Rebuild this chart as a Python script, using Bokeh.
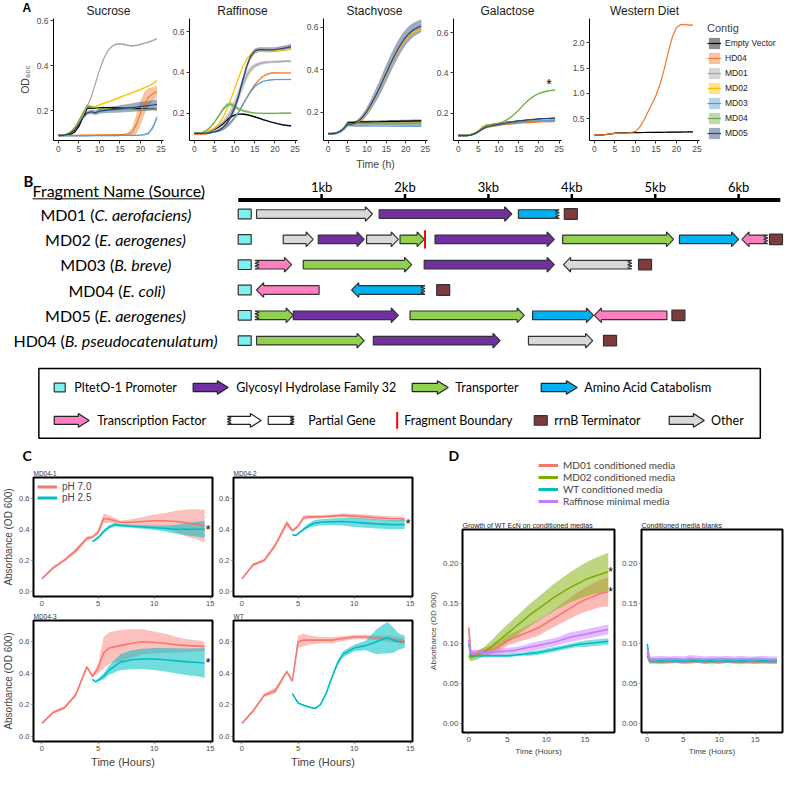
import numpy as np
from bokeh.plotting import figure
from bokeh.models import Range1d, FixedTicker, Legend, LegendItem, NumeralTickFormatter
from bokeh.layouts import row, column
from bokeh.embed import file_html
from bokeh.resources import INLINE
from bokeh.core.properties import value

FA = "Liberation Sans"
FB = "Lato"
NAN2 = [np.nan, np.nan]

# ======================= Panel A data =======================
TIME_A = list(range(25))
CONTIGS = ["Empty Vector", "HD04", "MD01", "MD02", "MD03", "MD04", "MD05"]
CONTIG_COLORS = ["#000000", "#ED7D31", "#A5A5A5", "#FFC000", "#5B9BD5", "#70AD47", "#264478"]
X_TICKS_A = [0, 5, 10, 15, 20, 25]
A_TITLES = ["Sucrose", "Raffinose", "Stachyose", "Galactose", "Western Diet"]

sucrose = {
    "Empty Vector": [0.090,0.090,0.092,0.095,0.105,0.130,0.170,0.210,0.212,0.210,0.212,0.213,0.213,0.212,0.212,0.211,0.210,0.210,0.210,0.209,0.208,0.207,0.206,0.206,0.205],
    "HD04": [0.090,0.090,0.090,0.090,0.090,0.090,0.091,0.091,0.091,0.091,0.092,0.092,0.092,0.092,0.093,0.093,0.094,0.096,0.105,0.140,0.190,0.235,0.260,0.275,0.285],
    "MD01": [0.090,0.090,0.093,0.100,0.115,0.145,0.180,0.220,0.260,0.320,0.380,0.430,0.465,0.485,0.495,0.497,0.495,0.490,0.488,0.490,0.495,0.500,0.505,0.512,0.520],
    "MD02": [0.090,0.090,0.095,0.105,0.125,0.155,0.190,0.222,0.215,0.218,0.225,0.232,0.238,0.245,0.252,0.259,0.266,0.273,0.280,0.287,0.294,0.302,0.310,0.320,0.333],
    "MD03": [0.088,0.088,0.088,0.088,0.088,0.088,0.088,0.088,0.089,0.089,0.089,0.089,0.089,0.089,0.089,0.090,0.090,0.090,0.090,0.090,0.091,0.093,0.100,0.125,0.170],
    "MD04": [0.090,0.090,0.095,0.105,0.125,0.155,0.190,0.222,0.218,0.212,0.208,0.208,0.208,0.206,0.205,0.207,0.210,0.210,0.208,0.206,0.205,0.205,0.205,0.205,0.205],
    "MD05": [0.090,0.090,0.093,0.100,0.115,0.140,0.170,0.190,0.195,0.190,0.198,0.200,0.202,0.204,0.206,0.208,0.210,0.212,0.214,0.216,0.218,0.220,0.222,0.225,0.228],
}
sucrose_sd = {
    "HD04": [0.003,0.003,0.003,0.003,0.003,0.003,0.003,0.003,0.003,0.003,0.003,0.003,0.003,0.003,0.003,0.003,0.003,0.008,0.020,0.045,0.055,0.050,0.040,0.030,0.025],
    "MD05": [0.004,0.004,0.004,0.004,0.004,0.004,0.006,0.008,0.010,0.010,0.012,0.012,0.013,0.014,0.015,0.016,0.017,0.018,0.019,0.020,0.020,0.021,0.021,0.022,0.022],
    "MD03": [0.003,0.003,0.003,0.003,0.003,0.003,0.003,0.003,0.003,0.003,0.003,0.003,0.003,0.003,0.003,0.003,0.003,0.003,0.003,0.003,0.003,0.004,0.006,0.010,0.012],
}

raffinose = {
    "Empty Vector": [0.100,0.100,0.102,0.106,0.112,0.120,0.130,0.145,0.165,0.180,0.190,0.194,0.195,0.192,0.187,0.181,0.175,0.168,0.162,0.156,0.151,0.146,0.142,0.139,0.137],
    "HD04": [0.095,0.095,0.096,0.098,0.102,0.108,0.115,0.125,0.140,0.158,0.178,0.205,0.240,0.275,0.310,0.340,0.362,0.380,0.390,0.396,0.398,0.398,0.397,0.397,0.397],
    "MD01": [0.100,0.100,0.102,0.106,0.113,0.123,0.136,0.152,0.172,0.200,0.240,0.290,0.340,0.385,0.415,0.432,0.442,0.447,0.450,0.451,0.452,0.453,0.454,0.455,0.455],
    "MD02": [0.100,0.100,0.103,0.108,0.116,0.128,0.145,0.175,0.215,0.265,0.320,0.375,0.425,0.465,0.490,0.500,0.504,0.505,0.505,0.505,0.506,0.508,0.510,0.513,0.516],
    "MD03": [0.100,0.100,0.100,0.101,0.103,0.106,0.110,0.118,0.130,0.150,0.175,0.205,0.240,0.275,0.305,0.330,0.345,0.355,0.360,0.363,0.365,0.365,0.365,0.365,0.365],
    "MD04": [0.100,0.100,0.105,0.115,0.130,0.155,0.185,0.215,0.238,0.245,0.232,0.220,0.212,0.207,0.203,0.200,0.199,0.198,0.198,0.198,0.198,0.199,0.200,0.200,0.200],
    "MD05": [0.100,0.100,0.100,0.101,0.104,0.108,0.115,0.127,0.148,0.180,0.225,0.285,0.360,0.430,0.480,0.505,0.512,0.512,0.511,0.511,0.512,0.515,0.518,0.522,0.527],
}
raffinose_sd = {
    "MD01": [0.004,0.004,0.004,0.004,0.005,0.006,0.008,0.012,0.018,0.025,0.030,0.032,0.030,0.025,0.018,0.012,0.010,0.008,0.007,0.006,0.006,0.006,0.006,0.006,0.006],
    "MD04": [0.003,0.003,0.003,0.004,0.005,0.006,0.008,0.010,0.012,0.012,0.010,0.008,0.006,0.005,0.004,0.004,0.004,0.004,0.004,0.004,0.004,0.004,0.004,0.004,0.004],
    "MD05": [0.003,0.003,0.003,0.003,0.004,0.005,0.006,0.008,0.010,0.012,0.014,0.016,0.016,0.015,0.014,0.013,0.012,0.012,0.012,0.012,0.012,0.012,0.013,0.013,0.014],
}

stachyose = {
    "Empty Vector": [0.100,0.100,0.103,0.110,0.125,0.150,0.152,0.153,0.155,0.155,0.155,0.156,0.156,0.156,0.157,0.157,0.158,0.158,0.158,0.159,0.159,0.159,0.160,0.160,0.160],
    "HD04": [0.100,0.100,0.103,0.110,0.124,0.146,0.147,0.147,0.147,0.147,0.147,0.147,0.147,0.147,0.147,0.147,0.147,0.148,0.148,0.148,0.148,0.148,0.148,0.148,0.148],
    "MD01": [0.100,0.100,0.103,0.110,0.124,0.145,0.146,0.146,0.146,0.145,0.145,0.145,0.145,0.144,0.144,0.144,0.143,0.143,0.143,0.142,0.142,0.142,0.141,0.141,0.141],
    "MD02": [0.100,0.100,0.103,0.110,0.125,0.145,0.145,0.148,0.158,0.175,0.200,0.230,0.265,0.300,0.340,0.380,0.420,0.455,0.490,0.520,0.545,0.563,0.575,0.582,0.586],
    "MD03": [0.098,0.098,0.100,0.106,0.118,0.138,0.138,0.137,0.137,0.137,0.137,0.136,0.136,0.136,0.136,0.136,0.136,0.135,0.135,0.135,0.135,0.135,0.135,0.135,0.135],
    "MD04": [0.100,0.100,0.103,0.110,0.124,0.146,0.147,0.148,0.148,0.148,0.148,0.148,0.149,0.149,0.149,0.149,0.149,0.149,0.149,0.149,0.150,0.150,0.150,0.150,0.150],
    "MD05": [0.100,0.100,0.103,0.110,0.125,0.145,0.145,0.150,0.162,0.180,0.205,0.235,0.270,0.305,0.345,0.385,0.425,0.462,0.497,0.527,0.553,0.572,0.587,0.597,0.605],
}
stachyose_sd = {
    "Empty Vector": [0.003,0.003,0.003,0.004,0.005,0.008,0.007,0.006,0.006,0.006,0.006,0.006,0.006,0.006,0.006,0.006,0.006,0.006,0.006,0.006,0.006,0.006,0.006,0.006,0.006],
    "MD05": [0.004,0.004,0.004,0.004,0.005,0.006,0.007,0.009,0.012,0.016,0.020,0.025,0.030,0.034,0.037,0.040,0.041,0.041,0.040,0.039,0.037,0.035,0.033,0.031,0.030],
}

galactose = {
    "Empty Vector": [0.090,0.090,0.090,0.093,0.100,0.112,0.130,0.140,0.143,0.146,0.149,0.152,0.155,0.157,0.159,0.161,0.163,0.165,0.167,0.168,0.170,0.171,0.172,0.173,0.174],
    "HD04": [0.090,0.090,0.090,0.092,0.098,0.108,0.122,0.130,0.134,0.137,0.140,0.143,0.145,0.147,0.149,0.151,0.153,0.154,0.155,0.156,0.157,0.158,0.158,0.159,0.160],
    "MD01": [0.090,0.090,0.090,0.093,0.099,0.110,0.128,0.137,0.140,0.143,0.146,0.149,0.152,0.154,0.156,0.158,0.160,0.162,0.163,0.164,0.165,0.166,0.167,0.168,0.169],
    "MD02": [0.091,0.091,0.091,0.094,0.101,0.113,0.133,0.141,0.144,0.147,0.150,0.153,0.155,0.157,0.159,0.161,0.163,0.165,0.166,0.167,0.168,0.169,0.170,0.171,0.171],
    "MD03": [0.089,0.089,0.089,0.092,0.098,0.108,0.124,0.133,0.137,0.140,0.143,0.146,0.149,0.151,0.153,0.155,0.157,0.159,0.160,0.161,0.162,0.163,0.164,0.165,0.166],
    "MD04": [0.090,0.090,0.090,0.093,0.100,0.112,0.130,0.140,0.143,0.146,0.150,0.157,0.167,0.180,0.197,0.217,0.238,0.258,0.275,0.288,0.298,0.305,0.310,0.313,0.315],
    "MD05": [0.089,0.089,0.089,0.092,0.098,0.108,0.122,0.132,0.137,0.141,0.145,0.149,0.153,0.156,0.159,0.162,0.164,0.166,0.168,0.170,0.172,0.173,0.174,0.175,0.176],
}
galactose_sd = {}

western = {
    "Empty Vector": [0.180,0.180,0.182,0.190,0.200,0.215,0.220,0.222,0.224,0.225,0.226,0.227,0.228,0.229,0.230,0.231,0.232,0.233,0.234,0.235,0.236,0.237,0.238,0.239,0.240],
    "HD04": [0.180,0.180,0.182,0.190,0.200,0.210,0.215,0.218,0.222,0.228,0.250,0.330,0.460,0.630,0.790,0.960,1.180,1.480,1.820,2.120,2.300,2.360,2.360,2.350,2.350],
}
western_sd = {"Empty Vector": 0.01, "HD04": 0.015}

# ======================= Panel B data =======================
FRAG_PREFIX = ["MD01 (", "MD02 (", "MD03 (", "MD04 (", "MD05 (", "HD04 ("]
FRAG_SPECIES = ["C. aerofaciens)", "E. aerogenes)", "B. breve)", "E. coli)", "E. aerogenes)", "B. pseudocatenulatum)"]
gene_row = [0, 0, 0,  1, 1, 1, 1, 1, 1, 1, 1,  2, 2, 2, 2,  3, 3,  4, 4, 4, 4, 4,  5, 5, 5]
gene_start = [0.22, 1.69, 3.36,   0.54, 0.96, 1.54, 1.94, 2.36, 3.89, 5.29, 6.04,   0.20, 0.78, 2.23, 3.90,
              0.22, 1.36,   0.20, 0.66, 2.06, 3.53, 4.27,   0.22, 1.62, 3.48]
gene_end = [1.61, 3.28, 3.85,   0.90, 1.51, 1.92, 2.23, 3.79, 5.22, 6.00, 6.35,   0.64, 2.08, 3.79, 4.72,
            0.97, 2.24,   0.66, 1.92, 3.43, 4.26, 5.14,   1.51, 3.14, 4.25]
gene_type = ["other", "gh32", "aa",   "other", "gh32", "other", "tp", "gh32", "tp", "aa", "tf",
             "tf", "tp", "gh32", "other",   "tf", "aa",   "tp", "gh32", "tp", "aa", "tf",   "tp", "gh32", "other"]
gene_strand = [1, 1, 1,   1, 1, 1, 1, 1, 1, 1, -1,   1, 1, 1, -1,   -1, -1,   1, 1, 1, 1, -1,   1, 1, 1]
gene_partial = [None, None, "right",   None, None, None, None, None, None, None, "right",
                "left", None, None, "right",   None, "right",   "left", None, None, None, None,   None, None, None]
promoter_start = [0.0, 0.0, 0.0, 0.0, 0.0, 0.0]
terminator_start = [3.91, 6.37, 4.80, 2.38, 5.20, 4.38]
boundary_row = [1]
boundary_kb = [2.24]
RULER_TICKS = [1, 2, 3, 4, 5, 6]
RULER_LABELS = ["1kb", "2kb", "3kb", "4kb", "5kb", "6kb"]
RULER_END = 6.5

TYPE_COLORS = {"promoter": "#7DF0F0", "gh32": "#7030A0", "tp": "#92D050", "aa": "#00B0F0",
               "tf": "#FF80C0", "other": "#D9D9D9", "term": "#7E3B3B", "partial": "#FFFFFF"}
KEY_LABELS = ["PltetO-1 Promoter", "Glycosyl Hydrolase Family 32", "Transporter", "Amino Acid Catabolism",
              "Transcription Factor", "Partial Gene", "Fragment Boundary", "rrnB Terminator", "Other"]

# ======================= Panel C data =======================
C_RED_T = [0, 1, 2, 3, 4, 4.5, 5, 5.5, 6, 7, 8, 9, 10, 11, 12, 13, 14, 14.5]
md04_1_red = [0.08,0.15,0.20,0.26,0.34,0.35,0.38,0.47,0.465,0.445,0.445,0.45,0.455,0.455,0.45,0.44,0.43,0.42]
md04_1_red_sd = [0.005,0.01,0.01,0.015,0.015,0.01,0.015,0.03,0.025,0.01,0.02,0.03,0.04,0.05,0.07,0.09,0.10,0.105]
md04_1_cyan_t = [4.5,5,5.5,6,6.5,7,8,9,10,11,12,13,14,14.5]
md04_1_cyan = [0.32,0.345,0.385,0.415,0.43,0.425,0.42,0.415,0.41,0.405,0.40,0.40,0.40,0.40]
md04_1_cyan_sd = [0.005,0.008,0.01,0.012,0.012,0.01,0.01,0.012,0.015,0.02,0.03,0.04,0.05,0.055]

md04_2_red = [0.08,0.17,0.20,0.30,0.44,0.39,0.42,0.475,0.48,0.48,0.485,0.49,0.485,0.48,0.475,0.47,0.468,0.465]
md04_2_red_sd = [0.005,0.01,0.01,0.015,0.02,0.01,0.01,0.015,0.012,0.01,0.01,0.012,0.015,0.015,0.015,0.015,0.015,0.015]
md04_2_cyan_t = [4.5,4.8,5.5,6,6.5,7,8,9,10,11,12,13,14,14.5]
md04_2_cyan = [0.365,0.36,0.40,0.425,0.44,0.445,0.448,0.45,0.445,0.44,0.435,0.432,0.43,0.43]
md04_2_cyan_sd = [0.005,0.005,0.01,0.015,0.02,0.02,0.022,0.025,0.03,0.03,0.03,0.03,0.03,0.03]

md04_3_red = [0.08,0.15,0.18,0.26,0.44,0.38,0.43,0.53,0.56,0.575,0.59,0.60,0.595,0.59,0.58,0.575,0.572,0.57]
md04_3_red_sd = [0.005,0.01,0.01,0.01,0.01,0.01,0.03,0.10,0.10,0.10,0.09,0.08,0.07,0.06,0.05,0.04,0.035,0.03]
md04_3_cyan_t = [4.5,4.8,5.5,6,7,8,9,10,11,12,13,14,14.5]
md04_3_cyan = [0.36,0.345,0.38,0.42,0.47,0.485,0.49,0.49,0.485,0.478,0.472,0.468,0.465]
md04_3_cyan_sd = [0.005,0.005,0.02,0.03,0.05,0.06,0.065,0.07,0.075,0.08,0.085,0.09,0.095]

wt_red = [0.08,0.16,0.26,0.29,0.41,0.35,0.60,0.61,0.61,0.61,0.61,0.62,0.63,0.63,0.625,0.62,0.61,0.60]
wt_red_sd = [0.005,0.01,0.01,0.02,0.01,0.01,0.04,0.04,0.03,0.02,0.02,0.015,0.015,0.015,0.015,0.02,0.02,0.02]
wt_cyan_t = [4.5,5,5.5,6,6.5,7,7.5,8,8.5,9,10,11,12,12.5,13,13.5,14,14.5]
wt_cyan = [0.27,0.21,0.195,0.185,0.175,0.20,0.27,0.37,0.46,0.52,0.56,0.575,0.60,0.615,0.625,0.61,0.60,0.60]
wt_cyan_sd = [0.005,0.005,0.005,0.005,0.005,0.005,0.01,0.01,0.015,0.02,0.02,0.03,0.08,0.09,0.10,0.08,0.05,0.04]

# ======================= Panel D data =======================
D_TIME = [0, 0.3, 1, 2, 3, 4, 5, 6, 7, 8, 9, 10, 11, 12, 13, 14, 15, 16, 17, 18]
D_NAMES = ["MD01 conditioned media", "MD02 conditioned media", "WT conditioned media", "Raffinose minimal media"]
D_COLORS = ["#F8766D", "#7CAE00", "#00BFC4", "#C77CFF"]
growth_md01 = [0.12,0.086,0.088,0.090,0.093,0.097,0.104,0.108,0.112,0.116,0.120,0.126,0.132,0.138,0.144,0.150,0.155,0.159,0.163,0.165]
growth_md01_sd = [0.01,0.005,0.004,0.005,0.005,0.006,0.006,0.007,0.008,0.009,0.010,0.010,0.011,0.012,0.013,0.014,0.015,0.016,0.017,0.018]
growth_md02 = [0.085,0.083,0.085,0.090,0.097,0.105,0.113,0.121,0.129,0.137,0.144,0.151,0.158,0.164,0.170,0.175,0.180,0.184,0.187,0.190]
growth_md02_sd = [0.005,0.005,0.005,0.006,0.008,0.010,0.011,0.012,0.013,0.014,0.015,0.016,0.017,0.018,0.019,0.020,0.021,0.022,0.023,0.024]
growth_wt = [0.100,0.085,0.085,0.085,0.085,0.085,0.085,0.086,0.087,0.088,0.089,0.091,0.093,0.095,0.097,0.099,0.100,0.101,0.102,0.103]
growth_wt_sd = [0.002,0.002,0.002,0.002,0.002,0.002,0.002,0.002,0.002,0.003,0.003,0.003,0.003,0.003,0.003,0.003,0.004,0.004,0.004,0.004]
growth_raf = [0.105,0.088,0.088,0.089,0.089,0.090,0.091,0.092,0.094,0.096,0.098,0.100,0.102,0.105,0.108,0.110,0.112,0.114,0.116,0.118]
growth_raf_sd = [0.004,0.004,0.004,0.004,0.004,0.004,0.004,0.004,0.004,0.005,0.005,0.005,0.005,0.005,0.006,0.006,0.006,0.006,0.006,0.006]

blank_md01 = [0.090,0.079,0.079,0.078,0.079,0.079,0.078,0.079,0.079,0.078,0.079,0.078,0.079,0.079,0.078,0.079,0.078,0.079,0.078,0.078]
blank_md02 = [0.085,0.078,0.078,0.078,0.078,0.079,0.078,0.078,0.079,0.078,0.078,0.078,0.079,0.078,0.078,0.078,0.078,0.078,0.078,0.078]
blank_wt = [0.100,0.080,0.079,0.079,0.080,0.079,0.079,0.080,0.079,0.079,0.079,0.080,0.079,0.079,0.079,0.079,0.080,0.079,0.079,0.079]
blank_raf = [0.095,0.080,0.080,0.081,0.080,0.081,0.080,0.081,0.081,0.080,0.081,0.080,0.081,0.080,0.081,0.080,0.080,0.081,0.080,0.080]
blank_sd = [0.003,0.003,0.003,0.003,0.003,0.003,0.003,0.003,0.003,0.003,0.003,0.003,0.003,0.003,0.003,0.003,0.003,0.003,0.003,0.003]
blank_raf_sd = [0.004,0.004,0.004,0.004,0.004,0.004,0.004,0.005,0.004,0.004,0.004,0.004,0.004,0.004,0.004,0.004,0.004,0.004,0.004,0.004]


# ======================= helpers =======================
def fig(**kw):
    return figure(output_backend="svg", toolbar_location=None, **kw)


def strip(w, h):
    """Blank drawing area (no axes) in pixel units, for panel letters, headings and keys."""
    p = fig(width=w, height=h, x_range=Range1d(0, w), y_range=Range1d(h, 0),
            x_axis_type=None, y_axis_type=None, min_border=0)
    p.outline_line_color = None
    p.grid.visible = False
    return p


def axes_classic(p, tick_size="8.5px"):
    p.grid.visible = False
    p.outline_line_color = None
    for ax in p.axis:
        ax.axis_line_color = "black"
        ax.axis_line_width = 1
        ax.major_tick_line_color = "#333333"
        ax.major_tick_out = 3
        ax.major_tick_in = 0
        ax.minor_tick_line_color = None
        ax.major_label_text_font = FA
        ax.major_label_text_font_size = tick_size
        ax.major_label_text_color = "#4D4D4D"
        ax.major_label_standoff = 2
        ax.axis_label_text_font = FA
        ax.axis_label_text_font_size = "10.5px"
        ax.axis_label_text_font_style = "normal"
        ax.axis_label_standoff = 3


def axes_box(p, tick_size, label_size, fmt):
    p.grid.visible = False
    p.outline_line_color = "black"
    p.outline_line_width = 2
    for ax in p.axis:
        ax.axis_line_color = None
        ax.major_tick_line_color = "#555555"
        ax.major_tick_out = 2
        ax.major_tick_in = 0
        ax.minor_tick_line_color = None
        ax.major_label_text_font = FA
        ax.major_label_text_font_size = tick_size
        ax.major_label_text_color = "#4D4D4D"
        ax.major_label_standoff = 2
        ax.axis_label_text_font = FA
        ax.axis_label_text_font_size = label_size
        ax.axis_label_text_font_style = "normal"
        ax.axis_label_standoff = 2
    p.yaxis.formatter = NumeralTickFormatter(format=fmt)


HA = 156
A_TOP = 2
A_BOTTOM = 28


def panel_a(w, lb, rb, yr, yticks, data, sd, xlabel=None, ylabel=None, fmt="0.0"):
    p = fig(width=w, height=HA, x_range=Range1d(-1.2, 25.6), y_range=Range1d(*yr),
            min_border_left=lb, min_border_right=rb, min_border_top=A_TOP, min_border_bottom=A_BOTTOM)
    axes_classic(p)
    p.xaxis.ticker = FixedTicker(ticks=X_TICKS_A)
    p.yaxis.ticker = FixedTicker(ticks=yticks)
    p.yaxis.formatter = NumeralTickFormatter(format=fmt)
    if xlabel:
        p.xaxis.axis_label = xlabel
    if ylabel:
        p.yaxis.axis_label = ylabel
    for name, col in zip(CONTIGS, CONTIG_COLORS):
        if name in data:
            y = np.array(data[name], float)
            s = np.broadcast_to(np.array(sd.get(name, 0.004), float), y.shape)
            p.varea(x=TIME_A, y1=y - s, y2=y + s, fill_color=col, fill_alpha=0.45)
    for name, col in zip(CONTIGS, CONTIG_COLORS):
        if name in data:
            p.line(TIME_A, data[name], line_color=col, line_width=1.2)
    return p


# ======================= Panel A =======================
A_W = [169, 134, 130, 134, 136]
A_LB = [53, 18, 18, 20, 22]
A_RB = [6, 6, 6, 6, 4]
pa1 = panel_a(A_W[0], A_LB[0], A_RB[0], (0.067, 0.61), [0.2, 0.4, 0.6], sucrose, sucrose_sd, ylabel="OD\u2086\u2080\u2080")
pa2 = panel_a(A_W[1], A_LB[1], A_RB[1], (0.065, 0.665), [0.2, 0.4, 0.6], raffinose, raffinose_sd)
pa3 = panel_a(A_W[2], A_LB[2], A_RB[2], (0.068, 0.64), [0.2, 0.4, 0.6], stachyose, stachyose_sd, xlabel="Time (h)")
pa4 = panel_a(A_W[3], A_LB[3], A_RB[3], (0.065, 0.67), [0.2, 0.4, 0.6], galactose, galactose_sd)
pa5 = panel_a(A_W[4], A_LB[4], A_RB[4], (0.07, 2.48), [0.5, 1.0, 1.5, 2.0], western, western_sd)
pa4.text(x=[22.5], y=[0.345], text=["*"], text_font=value(FA), text_font_size="14px",
         text_align="center", text_baseline="middle", text_color="black")

# "Contig" key beside the Western Diet plot
LEG_W = 784 - sum(A_W)
legA = strip(LEG_W, HA)
key_items = []
for name, col in zip(CONTIGS, CONTIG_COLORS):
    kr = legA.rect(x=NAN2, y=NAN2, width=1, height=1, fill_color=col, fill_alpha=0.45, line_color=None)
    kl = legA.line(x=NAN2, y=NAN2, line_color=col, line_width=1.2)
    key_items.append(LegendItem(label=value(name), renderers=[kr, kl]))
legA.add_layout(Legend(items=key_items, title="Contig", location="top_left", margin=4, padding=0,
                       title_text_font=FA, title_text_font_size="11px", title_text_font_style="normal",
                       label_text_font=FA, label_text_font_size="8.5px", label_text_color="#222222",
                       glyph_width=14, glyph_height=14, spacing=1, label_standoff=4, label_height=14,
                       border_line_color=None, background_fill_alpha=0, title_standoff=2))

# heading strip for panel A: letter and plot titles centred on each plot area
sA = strip(784, 16)
centers, left = [], 0
for w, lb, rb in zip(A_W, A_LB, A_RB):
    centers.append(left + lb + (w - lb - rb) / 2)
    left += w
sA.text(x=centers, y=[10] * 5, text=A_TITLES, text_font=value(FA), text_font_size="12px",
        text_align="center", text_baseline="middle", text_color="#1A1A1A")
sA.text(x=[22], y=[7], text=["A"], text_font=value(FA), text_font_size="12px", text_font_style="bold",
        text_align="left", text_baseline="middle", text_color="black")

# ======================= Panel B =======================
LATO_EM = {" ": 0.26, "(": 0.29, ")": 0.29, ".": 0.22, "-": 0.33,
           "A": 0.68, "B": 0.64, "C": 0.66, "D": 0.73, "E": 0.56, "F": 0.54, "H": 0.74, "M": 0.89, "N": 0.74, "S": 0.53,
           "a": 0.49, "b": 0.55, "c": 0.45, "d": 0.55, "e": 0.51, "f": 0.31, "g": 0.49, "h": 0.55, "i": 0.23,
           "k": 0.49, "l": 0.23, "m": 0.82, "n": 0.55, "o": 0.55, "p": 0.55, "r": 0.36, "s": 0.41, "t": 0.34,
           "u": 0.55, "v": 0.48, "y": 0.48}
KB_PX = 83.4


def text_kb(s, size):
    return sum(LATO_EM.get(c, 0.58) for c in s) * size / KB_PX


pB = fig(width=784, height=274, x_range=Range1d(-2.85, 6.55), y_range=Range1d(9.18, -1.64),
         x_axis_type=None, y_axis_type=None, min_border=0)
pB.grid.visible = False
pB.outline_line_color = None


def gene_polygon(x0, x1, yc, strand, partial, bh=0.17, hh=0.29, hl=0.085, td=0.05):
    left = "jag" if partial == "left" else ("head" if strand < 0 else "flat")
    right = "jag" if partial == "right" else ("head" if strand > 0 else "flat")
    xs, ys = [], []
    n = 7
    if right == "flat":
        xs += [x1, x1]; ys += [yc - bh, yc + bh]
    elif right == "head":
        xs += [x1 - hl, x1 - hl, x1, x1 - hl, x1 - hl]; ys += [yc - bh, yc - hh, yc, yc + hh, yc + bh]
    else:
        for k in range(n):
            xs.append(x1 - (td if k % 2 else 0)); ys.append(yc - bh + 2 * bh * k / (n - 1))
    if left == "flat":
        xs += [x0, x0]; ys += [yc + bh, yc - bh]
    elif left == "head":
        xs += [x0 + hl, x0 + hl, x0, x0 + hl, x0 + hl]; ys += [yc + bh, yc + hh, yc, yc - hh, yc - bh]
    else:
        for k in range(n):
            xs.append(x0 + (td if k % 2 else 0)); ys.append(yc + bh - 2 * bh * k / (n - 1))
    return xs, ys


gx, gy, gc = [], [], []
for r, s, e, t, st, pa in zip(gene_row, gene_start, gene_end, gene_type, gene_strand, gene_partial):
    xs, ys = gene_polygon(s, e, r, st, pa)
    gx.append(xs); gy.append(ys); gc.append(TYPE_COLORS[t])
pB.patches(xs=gx, ys=gy, fill_color=gc, line_color="#333333", line_width=1.2)

rows = list(range(len(FRAG_PREFIX)))
PLEN = 0.156
pB.quad(left=promoter_start, right=[v + PLEN for v in promoter_start],
        top=[r - 0.19 for r in rows], bottom=[r + 0.19 for r in rows],
        fill_color=TYPE_COLORS["promoter"], line_color="#333333", line_width=1.2)
pB.quad(left=terminator_start, right=[v + PLEN for v in terminator_start],
        top=[r - 0.21 for r in rows], bottom=[r + 0.21 for r in rows],
        fill_color=TYPE_COLORS["term"], line_color="#333333", line_width=1.2)
pB.segment(x0=boundary_kb, x1=boundary_kb, y0=[r - 0.36 for r in boundary_row], y1=[r + 0.36 for r in boundary_row],
           line_color="#FF0000", line_width=2)

RY = -0.55
pB.segment(x0=[0], x1=[RULER_END], y0=[RY], y1=[RY], line_color="black", line_width=4)
pB.segment(x0=RULER_TICKS, x1=RULER_TICKS, y0=[RY] * 6, y1=[RY - 0.24] * 6, line_color="black", line_width=2.5)
pB.text(x=RULER_TICKS, y=[RY - 0.5] * 6, text=RULER_LABELS, text_font=value(FB), text_font_size="13px",
        text_align="center", text_baseline="middle", text_color="black")

pB.text(x=[-2.575], y=[-1.3], text=["B"], text_font=value(FB), text_font_size="15px", text_font_style="bold",
        text_align="left", text_baseline="middle", text_color="black")
HX = -2.465
pB.text(x=[HX], y=[-0.93], text=["Fragment Name (Source)"], text_font=value(FB), text_font_size="16px",
        text_align="left", text_baseline="middle", text_color="black")
pB.segment(x0=[HX], x1=[HX + text_kb("Fragment Name (Source)", 16)], y0=[-0.6], y1=[-0.6],
           line_color="black", line_width=1)

LCENTER = -1.44
split = []
for pre, sp in zip(FRAG_PREFIX, FRAG_SPECIES):
    wp, ws = text_kb(pre, 16), text_kb(sp, 16)
    split.append(LCENTER - (wp + ws) / 2 + wp)
pB.text(x=split, y=rows, text=FRAG_PREFIX, text_font=value(FB), text_font_size="16px",
        text_align="right", text_baseline="middle", text_color="black")
pB.text(x=split, y=rows, text=FRAG_SPECIES, text_font=value(FB), text_font_size="16px", text_font_style="italic",
        text_align="left", text_baseline="middle", text_color="black")

pB.quad(left=[-2.39], right=[6.26], top=[6.1], bottom=[8.85], fill_color=None, line_color="black", line_width=1.5)
L1, L2 = 6.85, 8.15
kx, ky, kc = [], [], []
for (x0, x1, yc, t, st, pa) in [(-0.54, -0.12, L1, "gh32", 1, None), (2.086, 2.518, L1, "tp", 1, None),
                                (3.633, 4.065, L1, "aa", 1, None), (-2.206, -1.787, L2, "tf", 1, None),
                                (-0.13, 0.276, L2, "partial", 1, "left"), (0.36, 0.67, L2, "partial", 0, "right"),
                                (5.168, 5.588, L2, "other", 1, None)]:
    xs, ys = gene_polygon(x0, x1, yc, st, pa, bh=0.16, hh=0.27, hl=0.13, td=0.045)
    kx.append(xs); ky.append(ys); kc.append(TYPE_COLORS[t])
pB.patches(xs=kx, ys=ky, fill_color=kc, line_color="#222222", line_width=1.2)
pB.quad(left=[-2.206], right=[-2.074], top=[L1 - 0.17], bottom=[L1 + 0.17],
        fill_color=TYPE_COLORS["promoter"], line_color="#333333", line_width=1.2)
pB.quad(left=[3.55], right=[3.705], top=[L2 - 0.19], bottom=[L2 + 0.19],
        fill_color=TYPE_COLORS["term"], line_color="#333333", line_width=1.2)
pB.segment(x0=[1.906], x1=[1.906], y0=[L2 - 0.33], y1=[L2 + 0.33], line_color="#FF0000", line_width=2)
pB.text(x=[-1.966, -0.024, 2.602, 4.149, -1.69, 0.84, 1.99, 3.79, 5.67],
        y=[L1, L1, L1, L1, L2, L2, L2, L2, L2], text=KEY_LABELS, text_font=value(FB),
        text_font_size="12.5px", text_align="left", text_baseline="middle", text_color="black")

# ======================= Panel C =======================
RED, CYAN = "#F8766D", "#00BFC4"


def panel_c(title, w, h, lb, rb, tb, bb, red, red_sd, cyan_t, cyan, cyan_sd, star, ylabel=None, xlabel=None):
    p = fig(width=w, height=h, x_range=Range1d(-0.75, 15.2), y_range=Range1d(-0.035, 0.735),
            min_border_left=lb, min_border_right=rb, min_border_top=tb, min_border_bottom=bb)
    p.title.text = title
    p.title.align = "left"
    p.title.text_font = FA
    p.title.text_font_size = "6.5px"
    p.title.text_font_style = "normal"
    p.title.text_color = "#333333"
    p.title.standoff = 1
    axes_box(p, "7.5px", "10px", "0.0")
    p.xaxis.ticker = FixedTicker(ticks=[0, 5, 10, 15])
    p.yaxis.ticker = FixedTicker(ticks=[0.0, 0.2, 0.4, 0.6])
    if ylabel:
        p.yaxis.axis_label = ylabel
    if xlabel:
        p.xaxis.axis_label = xlabel
        p.xaxis.axis_label_text_font_size = "11px"
    ry, rs = np.array(red), np.array(red_sd)
    cy, cs = np.array(cyan), np.array(cyan_sd)
    p.varea(x=C_RED_T, y1=ry - rs, y2=ry + rs, fill_color=RED, fill_alpha=0.45)
    p.varea(x=cyan_t, y1=cy - cs, y2=cy + cs, fill_color=CYAN, fill_alpha=0.55)
    p.line(C_RED_T, red, line_color=RED, line_width=1.6)
    p.line(cyan_t, cyan, line_color=CYAN, line_width=1.6)
    if star is not None:
        p.text(x=[14.8], y=[star], text=["*"], text_font=value(FA), text_font_size="13px",
               text_align="center", text_baseline="middle", text_color="black")
    return p


c11 = panel_c("MD04-1", 216, 146, 28, 4, 13, 14, md04_1_red, md04_1_red_sd, md04_1_cyan_t, md04_1_cyan,
              md04_1_cyan_sd, 0.40, ylabel="Absorbance (OD 600)")
c12 = panel_c("MD04-2", 200, 146, 15, 4, 13, 14, md04_2_red, md04_2_red_sd, md04_2_cyan_t, md04_2_cyan,
              md04_2_cyan_sd, 0.44)
c21 = panel_c("MD04-3", 216, 160, 28, 4, 9, 27, md04_3_red, md04_3_red_sd, md04_3_cyan_t, md04_3_cyan,
              md04_3_cyan_sd, 0.465, ylabel="Absorbance (OD 600)", xlabel="Time (Hours)")
c22 = panel_c("WT", 200, 160, 15, 4, 9, 27, wt_red, wt_red_sd, wt_cyan_t, wt_cyan, wt_cyan_sd, None,
              xlabel="Time (Hours)")
k1 = c11.line(x=[0, 1], y=NAN2, line_color=RED, line_width=3)
k2 = c11.line(x=[0, 1], y=NAN2, line_color=CYAN, line_width=3)
c11.add_layout(Legend(items=[LegendItem(label=value("pH 7.0"), renderers=[k1]),
                             LegendItem(label=value("pH 2.5"), renderers=[k2])],
                     location="top_left", margin=4, padding=2, spacing=0, glyph_width=20, glyph_height=11,
                     label_height=11, label_standoff=5, label_text_font=FA, label_text_font_size="10px",
                     border_line_color=None, background_fill_alpha=0))

sC = strip(416, 18)
sC.text(x=[22], y=[9], text=["C"], text_font=value(FB), text_font_size="14px", text_font_style="bold",
        text_align="left", text_baseline="middle", text_color="black")

# ======================= Panel D =======================
dleg = strip(368, 64)
dk = [dleg.line(x=[0, 1], y=NAN2, line_color=c, line_width=3) for c in D_COLORS]
dleg.add_layout(Legend(items=[LegendItem(label=value(n), renderers=[r]) for n, r in zip(D_NAMES, dk)],
                       location=(122, 3), margin=0, padding=0, spacing=0, glyph_width=20, glyph_height=12,
                       label_height=12, label_standoff=5, label_text_font=FB, label_text_font_size="10px",
                       border_line_color=None, background_fill_alpha=0))
dleg.text(x=[32], y=[9], text=["D"], text_font=value(FB), text_font_size="14px", text_font_style="bold",
          text_align="left", text_baseline="middle", text_color="black")


def panel_d(title, w, lb, rb, series, stars=None, ylabel=None):
    p = fig(width=w, height=260, x_range=Range1d(-0.8, 18.8), y_range=Range1d(-0.011, 0.243),
            min_border_left=lb, min_border_right=rb, min_border_top=19, min_border_bottom=38)
    p.title.text = title
    p.title.align = "left"
    p.title.text_font = FA
    p.title.text_font_size = "7px"
    p.title.text_font_style = "normal"
    p.title.text_color = "#222222"
    p.title.standoff = 2
    axes_box(p, "8px", "8px", "0.00")
    p.xaxis.ticker = FixedTicker(ticks=[0, 5, 10, 15])
    p.yaxis.ticker = FixedTicker(ticks=[0.0, 0.05, 0.10, 0.15, 0.20])
    p.xaxis.axis_label = "Time (Hours)"
    if ylabel:
        p.yaxis.axis_label = ylabel
    for (y, s), col in zip(series, D_COLORS):
        y, s = np.array(y), np.array(s)
        p.varea(x=D_TIME, y1=y - s, y2=y + s, fill_color=col, fill_alpha=0.5)
    for (y, s), col in zip(series, D_COLORS):
        p.line(D_TIME, y, line_color=col, line_width=1.6)
    if stars:
        p.text(x=[18.3] * len(stars), y=stars, text=["*"] * len(stars), text_font=value(FA), text_font_size="12px",
               text_align="center", text_baseline="middle", text_color="black")
    return p


d1 = panel_d("Growth of WT EcN on conditioned medias", 202, 46, 4,
             [(growth_md01, growth_md01_sd), (growth_md02, growth_md02_sd), (growth_wt, growth_wt_sd),
              (growth_raf, growth_raf_sd)], stars=[0.19, 0.165], ylabel="Absorbance (OD 600)")
d2 = panel_d("Conditioned media blanks", 166, 22, 2,
             [(blank_md01, blank_sd), (blank_md02, blank_sd), (blank_wt, blank_sd), (blank_raf, blank_raf_sd)])

layout = column(
    sA,
    row(pa1, pa2, pa3, pa4, pa5, legA),
    pB,
    row(column(sC, row(c11, c12), row(c21, c22)), column(dleg, row(d1, d2))),
)

open("out.html", "w").write(file_html(layout, INLINE))
